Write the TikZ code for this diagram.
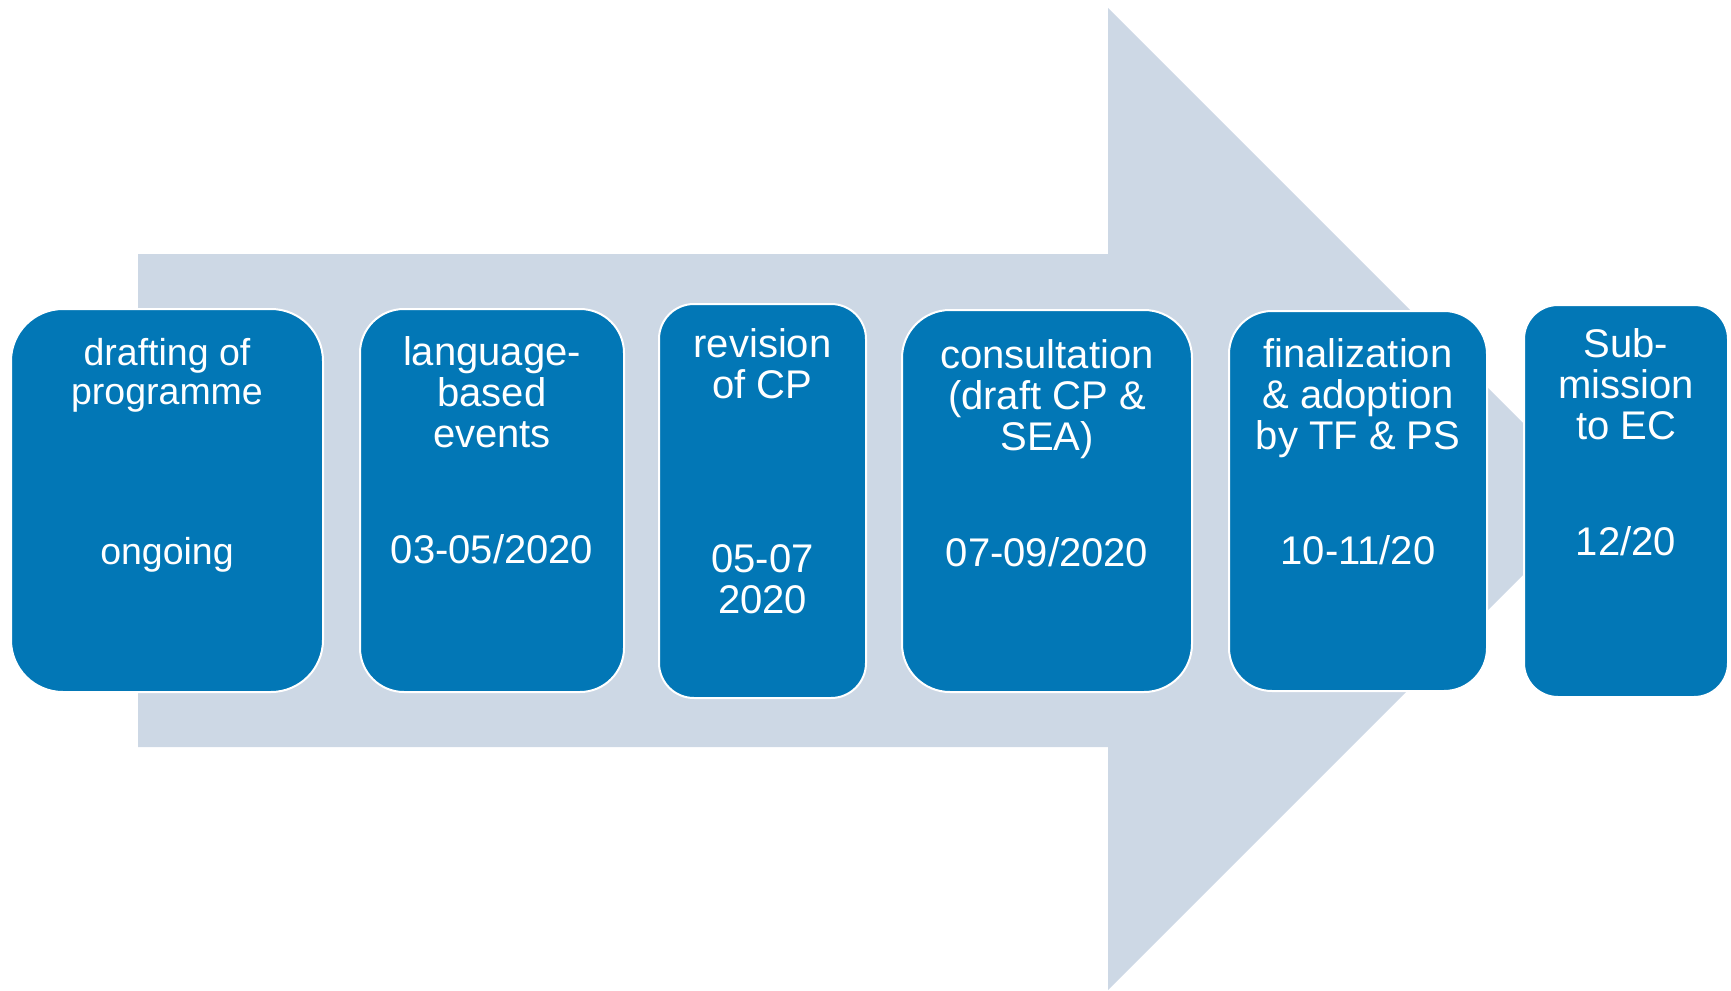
\documentclass[tikz,border=0pt]{standalone}
\usepackage{fontspec}
\setmainfont{Liberation Sans}
\definecolor{arrowfill}{RGB}{205,216,229}
\definecolor{boxfill}{RGB}{2,119,182}
\begin{document}
\begin{tikzpicture}[x=1pt,y=-1pt,
  stage/.style={draw=white, line width=2pt, fill=boxfill, rectangle, inner sep=0pt},
  lbl/.style={text=white, align=center, inner sep=0pt, anchor=base,
    font=\fontsize{40}{41}\selectfont},
  smalllbl/.style={lbl, font=\fontsize{37.5}{38.5}\selectfont}]
\useasboundingbox (0,0) rectangle (1731,990);
% big background arrow
\fill[arrowfill] (138,254) -- (1108,254) -- (1108,8) -- (1599,499) -- (1108,990) -- (1108,747) -- (138,747) -- cycle;
% stage boxes
\node[stage, rounded corners=52pt, minimum width=312pt, minimum height=383pt] (b1) at (167,500.5) {};
\node[stage, rounded corners=44pt, minimum width=264pt, minimum height=383pt] (b2) at (492,500.5) {};
\node[stage, rounded corners=35pt, minimum width=207pt, minimum height=394pt] (b3) at (762.5,501) {};
\node[stage, rounded corners=48pt, minimum width=290pt, minimum height=382pt] (b4) at (1047,501) {};
\node[stage, rounded corners=43pt, minimum width=258pt, minimum height=380pt] (b5) at (1358,501) {};
\node[stage, rounded corners=34pt, minimum width=204pt, minimum height=392pt] (b6) at (1626,501) {};
% labels (anchor base = baseline of the last line)
\node[smalllbl] (t1) at (167,404) {drafting of\\programme};
\node[smalllbl] (d1) at (167,564) {ongoing};
\node[lbl] (t2) at (492,447) {language-\\based\\events};
\node[lbl] (d2) at (492,563) {03-05/2020};
\node[lbl] (t3) at (762.5,398) {revision\\of CP};
\node[lbl] (d3) at (762.5,613) {05-07\\2020};
\node[lbl] (t4) at (1047,450) {consultation\\(draft CP \&\\SEA)};
\node[lbl] (d4) at (1047,566) {07-09/2020};
\node[lbl] (t5) at (1358,449) {finalization\\\& adoption\\by TF \& PS};
\node[lbl] (d5) at (1358,564) {10-11/20};
\node[lbl] (t6) at (1626,439) {Sub-\\mission\\to EC};
\node[lbl] (d6) at (1626,555) {12/20};
\end{tikzpicture}
\end{document}
